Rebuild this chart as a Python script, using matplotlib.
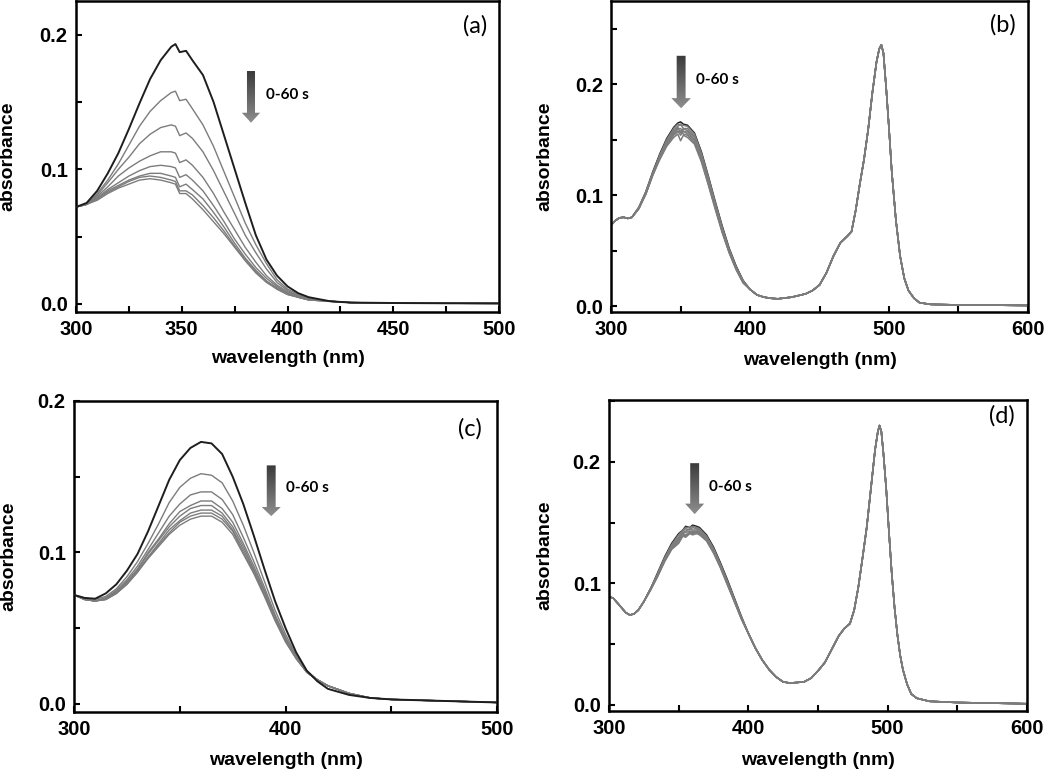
import numpy as np
import matplotlib
matplotlib.use("Agg")
import matplotlib.pyplot as plt
from matplotlib.patches import Polygon
from matplotlib.colors import LinearSegmentedColormap
from matplotlib.ticker import MultipleLocator

# =========================
# Panneau (a) : longueurs d'onde et spectres (0 -> 60 s)
wl_a = [300, 305, 310, 315, 320, 325, 330, 335, 340, 345, 347, 349, 352, 355, 360,
        365, 370, 375, 380, 385, 390, 395, 400, 405, 410, 420, 430, 450, 475, 500]
abs_a_1 = [.072, .075, .084, .097, .112, .130, .149, .167, .181, .191, .193, .187, .188, .181, .170,
           .150, .125, .100, .075, .051, .033, .021, .013, .008, .005, .002, .001, .0007, .0005, .0004]
abs_a_2 = [.072, .074, .082, .092, .104, .118, .132, .143, .151, .157, .158, .151, .152, .145, .133,
           .117, .098, .079, .060, .044, .030, .018, .011, .007, .004, .002, .001, .0007, .0005, .0004]
abs_a_3 = [.072, .074, .081, .090, .100, .109, .119, .126, .131, .133, .132, .125, .127, .123, .113,
           .099, .083, .067, .051, .038, .026, .016, .010, .006, .004, .002, .001, .0007, .0005, .0004]
abs_a_4 = [.072, .074, .080, .087, .095, .101, .106, .110, .113, .113, .112, .105, .107, .103, .094,
           .082, .068, .055, .042, .031, .021, .014, .009, .006, .004, .002, .001, .0007, .0005, .0004]
abs_a_5 = [.072, .074, .079, .085, .090, .095, .099, .102, .103, .102, .101, .094, .096, .092, .084,
           .073, .061, .048, .037, .027, .019, .013, .008, .005, .003, .002, .001, .0007, .0005, .0004]
abs_a_6 = [.072, .074, .078, .084, .088, .092, .095, .097, .097, .095, .094, .087, .089, .085, .078,
           .068, .057, .045, .034, .025, .017, .012, .008, .005, .003, .002, .001, .0007, .0005, .0004]
abs_a_7 = [.072, .074, .078, .083, .087, .091, .094, .095, .094, .092, .091, .084, .084, .081, .073,
           .064, .054, .043, .033, .024, .017, .011, .007, .005, .003, .002, .001, .0007, .0005, .0004]
abs_a_8 = [.072, .074, .077, .082, .086, .089, .092, .093, .092, .090, .089, .082, .082, .078, .070,
           .061, .052, .042, .032, .023, .016, .011, .007, .005, .003, .002, .001, .0007, .0005, .0004]

# =========================
# Panneau (b) : debut, bande a 350 nm (8 spectres), fin commune
wl_b_head = [300, 303, 306, 309, 312, 315]
abs_b_head = [.073, .077, .0795, .080, .079, .080]
wl_b_band = [320, 325, 330, 335, 340, 345, 348, 350, 352, 355, 360, 365, 370, 375, 380, 385, 390, 395]
band_b_1 = [.089, .103, .121, .137, .151, .161, .165, .166, .164, .163, .156, .139, .117, .094, .072, .052, .036, .023]
band_b_2 = [.089, .103, .120, .136, .150, .160, .164, .163, .163, .162, .155, .138, .116, .093, .071, .051, .035, .023]
band_b_3 = [.089, .102, .120, .135, .149, .158, .162, .164, .160, .160, .153, .136, .115, .092, .070, .051, .035, .022]
band_b_4 = [.088, .102, .119, .135, .148, .157, .161, .156, .160, .158, .152, .135, .114, .091, .069, .050, .034, .022]
band_b_5 = [.088, .102, .119, .134, .147, .156, .160, .160, .157, .157, .150, .134, .112, .090, .068, .049, .034, .022]
band_b_6 = [.088, .101, .119, .134, .146, .155, .158, .154, .158, .155, .149, .132, .111, .089, .067, .049, .033, .021]
band_b_7 = [.088, .101, .118, .133, .145, .154, .157, .158, .155, .154, .147, .131, .110, .088, .067, .048, .033, .021]
band_b_8 = [.088, .101, .118, .132, .144, .152, .155, .149, .154, .152, .146, .130, .109, .087, .066, .048, .033, .021]
wl_b_tail = [400, 405, 410, 415, 420, 430, 440, 445, 450, 455, 460, 465, 470, 473, 476, 479, 482, 485,
             488, 491, 493, 494.5, 496, 498, 500, 502, 505, 508, 511, 514, 518, 522, 530, 550, 575, 600]
abs_b_tail = [.015, .010, .008, .007, .0065, .008, .011, .014, .019, .030, .045, .057, .063, .067, .086, .110, .132, .159,
              .192, .220, .232, .2355, .228, .196, .160, .121, .077, .045, .025, .014, .007, .003, .0015, .001, .0008, .0005]

# =========================
# Panneau (c)
wl_c = [300, 305, 310, 315, 320, 325, 330, 335, 340, 345, 350, 355, 360, 365, 370,
        375, 380, 385, 390, 395, 400, 405, 410, 415, 420, 430, 440, 450, 475, 500]
abs_c_1 = [.072, .070, .0695, .073, .079, .088, .099, .114, .131, .148, .161, .169, .173, .172, .165,
           .150, .132, .111, .089, .068, .050, .034, .022, .015, .010, .006, .004, .003, .002, .001]
abs_c_2 = [.072, .070, .069, .071, .076, .084, .094, .106, .119, .133, .143, .149, .152, .151, .146,
           .134, .118, .100, .081, .062, .046, .032, .022, .016, .012, .007, .004, .003, .002, .001]
abs_c_3 = [.072, .069, .068, .070, .075, .082, .091, .102, .113, .124, .132, .138, .140, .140, .135,
           .125, .110, .094, .077, .059, .044, .031, .021, .016, .012, .007, .004, .003, .002, .001]
abs_c_4 = [.072, .069, .068, .070, .074, .081, .089, .100, .109, .119, .127, .131, .134, .134, .129,
           .120, .106, .091, .075, .058, .043, .031, .021, .016, .012, .007, .004, .003, .002, .001]
abs_c_5 = [.072, .069, .068, .0696, .074, .080, .089, .099, .108, .117, .124, .129, .131, .131, .126,
           .117, .104, .089, .074, .057, .042, .031, .021, .016, .012, .007, .004, .003, .002, .001]
abs_c_6 = [.072, .069, .068, .069, .073, .080, .088, .097, .106, .115, .121, .126, .128, .128, .124,
           .115, .102, .088, .072, .056, .042, .030, .021, .016, .012, .007, .004, .003, .002, .001]
abs_c_7 = [.072, .069, .068, .069, .073, .079, .087, .097, .105, .113, .120, .124, .126, .126, .122,
           .114, .100, .087, .072, .056, .041, .030, .021, .016, .012, .007, .004, .003, .002, .001]
abs_c_8 = [.072, .069, .068, .069, .073, .079, .087, .096, .104, .112, .118, .122, .124, .124, .120,
           .112, .099, .086, .071, .055, .041, .030, .021, .016, .012, .007, .004, .003, .002, .001]

# =========================
# Panneau (d)
wl_d_head = [300, 303, 306, 309, 312, 315, 318, 321, 325]
abs_d_head = [.089, .088, .084, .080, .076, .074, .075, .078, .085]
wl_d_band = [330, 335, 340, 345, 350, 353, 355, 358, 360, 363, 365, 370, 375, 380, 385, 390, 395]
band_d_1 = [.096, .109, .122, .133, .141, .144, .147, .146, .148, .147, .146, .140, .130, .117, .103, .088, .073]
band_d_2 = [.096, .108, .121, .132, .140, .144, .146, .146, .147, .146, .145, .139, .129, .116, .102, .087, .072]
band_d_3 = [.096, .108, .121, .131, .138, .143, .145, .144, .146, .145, .144, .138, .128, .115, .101, .087, .072]
band_d_4 = [.096, .107, .120, .131, .136, .142, .143, .145, .144, .144, .143, .137, .127, .115, .101, .086, .072]
band_d_5 = [.096, .107, .120, .130, .137, .141, .142, .143, .143, .143, .142, .137, .127, .114, .100, .086, .072]
band_d_6 = [.095, .107, .119, .129, .135, .140, .140, .142, .142, .142, .141, .136, .126, .114, .100, .086, .071]
band_d_7 = [.095, .106, .119, .129, .134, .140, .139, .142, .141, .142, .141, .136, .126, .113, .099, .085, .071]
band_d_8 = [.095, .106, .118, .128, .133, .139, .138, .141, .140, .141, .140, .135, .125, .113, .099, .085, .071]
wl_d_tail = [400, 405, 410, 415, 420, 425, 430, 435, 440, 445, 450, 455, 460, 465, 469, 473, 476, 479, 482, 485,
             488, 491, 493, 494.2, 495.5, 497, 499, 501, 503, 505, 507, 509, 511, 514, 517, 521, 530, 550, 575, 600]
abs_d_tail = [.059, .047, .037, .029, .023, .019, .018, .0185, .019, .022, .028, .035, .046, .057, .063, .067, .078, .097, .121, .146,
              .178, .210, .225, .230, .225, .207, .178, .142, .108, .080, .058, .041, .029, .017, .009, .0055, .003, .002, .0015, .001]

# =========================
# Style general
plt.rcParams['font.family'] = ['Liberation Sans', 'DejaVu Sans']
plt.rcParams['font.weight'] = 'bold'
plt.rcParams['axes.labelweight'] = 'bold'

fig = plt.figure(figsize=(10.5, 7.71), dpi=100)

noir = '#1e1e1e'
gris = '#7c7c7c'
degrade = LinearSegmentedColormap.from_list('fleche', ['#3a3a3a', '#8e8e8e'])


# Fleche avec degrade (haut fonce -> bas clair)
def fleche(ax, x, y_haut, y_base, y_pointe, tige, tete):
    pts = [(x - tige, y_haut), (x + tige, y_haut), (x + tige, y_base), (x + tete, y_base),
           (x, y_pointe), (x - tete, y_base), (x - tige, y_base)]
    poly = Polygon(pts, closed=True, facecolor='none', edgecolor='none')
    ax.add_patch(poly)
    grad = np.linspace(0, 1, 200).reshape(-1, 1)
    im = ax.imshow(grad, cmap=degrade, extent=[x - tete, x + tete, y_pointe, y_haut],
                   aspect='auto', origin='upper', zorder=4)
    im.set_clip_path(poly)


# Mise en forme d'un panneau
def habiller(ax, xmin, xmax, ymin, ymax, xmaj, lettre, lettre_pos, ylab_x, xlab_y):
    ax.set_xlim(xmin, xmax)
    ax.set_ylim(ymin, ymax)
    ax.xaxis.set_major_locator(MultipleLocator(xmaj))
    ax.xaxis.set_minor_locator(MultipleLocator(xmaj / 2))
    ax.yaxis.set_major_locator(MultipleLocator(0.1))
    ax.yaxis.set_minor_locator(MultipleLocator(0.05))
    ax.yaxis.set_major_formatter(plt.FormatStrFormatter('%.1f'))
    ax.tick_params(which='both', direction='in', top=False, right=False, width=1.5)
    ax.tick_params(which='major', length=4.5, labelsize=14.5, pad=6)
    ax.tick_params(which='minor', length=4)
    for s in ax.spines.values():
        s.set_linewidth(1.8)
    ax.set_xlabel('wavelength (nm)', fontsize=14)
    ax.set_ylabel('absorbance', fontsize=14)
    ax.yaxis.set_label_coords(ylab_x, 0.5)
    ax.xaxis.set_label_coords(0.5, xlab_y)
    ax.text(lettre_pos[0], lettre_pos[1], lettre, transform=ax.transAxes, fontsize=17,
            family=['Lato', 'DejaVu Sans'], fontweight='normal', ha='center', va='center')


# =========================
# Trace (a)
ax_a = fig.add_axes([0.0724, 0.5953, 0.403, 0.4034])
for i, y in enumerate([abs_a_1, abs_a_2, abs_a_3, abs_a_4, abs_a_5, abs_a_6, abs_a_7, abs_a_8]):
    if i == 0:
        ax_a.plot(wl_a, y, color=noir, lw=1.4, zorder=3)
    else:
        ax_a.plot(wl_a, y, color=gris, lw=1.0, zorder=2)
fleche(ax_a, 382.7, 0.173, 0.142, 0.1346, 1.9, 4.3)
ax_a.text(389.8, 0.155, '0-60 s', fontsize=11, family=['Lato', 'DejaVu Sans'], fontweight='bold', va='center')
habiller(ax_a, 300, 500, -0.006, 0.225, 50, '(a)', (0.943, 0.92), -0.140, -0.122)

# =========================
# Trace (b)
ax_b = fig.add_axes([0.582, 0.5953, 0.397, 0.4034])
bandes_b = [band_b_1, band_b_2, band_b_3, band_b_4, band_b_5, band_b_6, band_b_7, band_b_8]
for i, band in enumerate(bandes_b):
    x = wl_b_head + wl_b_band + wl_b_tail
    y = abs_b_head + band + abs_b_tail
    ax_b.plot(x, y, color=noir if i == 0 else gris, lw=1.1, zorder=2)
fleche(ax_b, 350.4, 0.2256, 0.1874, 0.1783, 3.2, 7.0)
ax_b.text(361.2, 0.204, '0-60 s', fontsize=11, family=['Lato', 'DejaVu Sans'], fontweight='bold', va='center')
habiller(ax_b, 300, 600, -0.0054, 0.275, 100, '(b)', (0.94, 0.923), -0.138, -0.129)

# =========================
# Trace (c)
ax_c = fig.add_axes([0.0705, 0.0765, 0.403, 0.4034])
for i, y in enumerate([abs_c_1, abs_c_2, abs_c_3, abs_c_4, abs_c_5, abs_c_6, abs_c_7, abs_c_8]):
    if i == 0:
        ax_c.plot(wl_c, y, color=noir, lw=1.4, zorder=3)
    else:
        ax_c.plot(wl_c, y, color=gris, lw=1.0, zorder=2)
fleche(ax_c, 393.2, 0.1575, 0.130, 0.124, 2.1, 4.5)
ax_c.text(400.3, 0.1423, '0-60 s', fontsize=11, family=['Lato', 'DejaVu Sans'], fontweight='bold', va='center')
habiller(ax_c, 300, 500, -0.0053, 0.2, 100, '(c)', (0.936, 0.91), -0.135, -0.128)

# =========================
# Trace (d)
ax_d = fig.add_axes([0.580, 0.0778, 0.398, 0.4034])
bandes_d = [band_d_1, band_d_2, band_d_3, band_d_4, band_d_5, band_d_6, band_d_7, band_d_8]
for i, band in enumerate(bandes_d):
    x = wl_d_head + wl_d_band + wl_d_tail
    y = abs_d_head + band + abs_d_tail
    ax_d.plot(x, y, color=noir if i == 0 else gris, lw=1.1, zorder=2)
fleche(ax_d, 361.5, 0.199, 0.1657, 0.157, 3.2, 6.8)
ax_d.text(372.0, 0.179, '0-60 s', fontsize=11, family=['Lato', 'DejaVu Sans'], fontweight='bold', va='center')
habiller(ax_d, 300, 600, -0.005, 0.251, 100, '(d)', (0.94, 0.949), -0.133, -0.131)

fig.savefig('out.png', dpi=100)
